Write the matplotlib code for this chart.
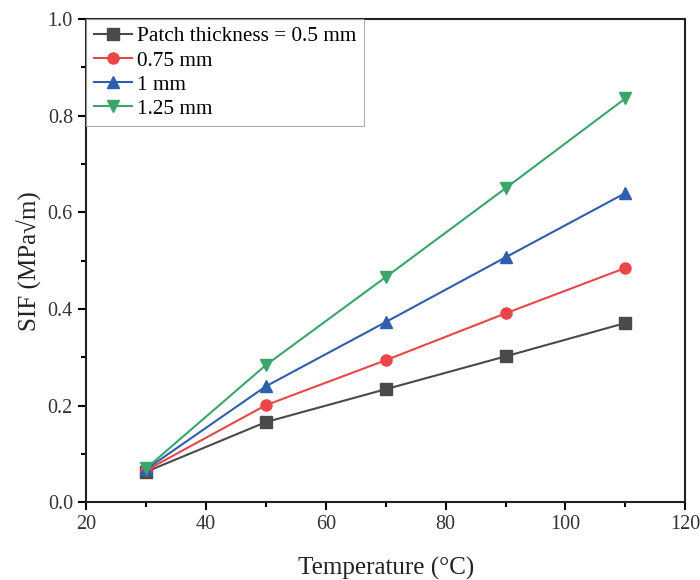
import numpy as np
import matplotlib
matplotlib.use('Agg')
import matplotlib.pyplot as plt
from matplotlib.ticker import MultipleLocator

plt.rcParams['font.family'] = ['Liberation Serif', 'DejaVu Serif']

temp = [30, 50, 70, 90, 110]
sif_05 = [0.063, 0.166, 0.234, 0.302, 0.371]
sif_075 = [0.066, 0.201, 0.294, 0.391, 0.485]
sif_1 = [0.068, 0.240, 0.373, 0.507, 0.640]
sif_125 = [0.070, 0.284, 0.466, 0.650, 0.836]

labels = ['Patch thickness = 0.5 mm', '0.75 mm', '1 mm', '1.25 mm']
colors = ['#4a4a4c', '#e8474a', '#2e5eae', '#3aa56a']
markers = ['s', 'o', '^', 'v']

fig = plt.figure(figsize=(7, 5.8), dpi=100)
ax = fig.add_axes([0.123, 0.134, 0.856, 0.833])

for y, lab, c, m in zip([sif_05, sif_075, sif_1, sif_125], labels, colors, markers):
    ax.plot(temp, y, color=c, marker=m, markersize=8, linewidth=1.5, label=lab)

ax.set_xlim(20, 120)
ax.set_ylim(0, 1.0)
ax.xaxis.set_major_locator(MultipleLocator(20))
ax.xaxis.set_minor_locator(MultipleLocator(10))
ax.yaxis.set_major_locator(MultipleLocator(0.2))
ax.yaxis.set_minor_locator(MultipleLocator(0.1))
ax.yaxis.set_major_formatter(matplotlib.ticker.FormatStrFormatter('%.1f'))

ax.tick_params(which='major', direction='out', length=6, width=1.5,
               labelsize=14.5, labelcolor='#333333')
ax.tick_params(which='minor', direction='out', length=3.5, width=1.5)
for s in ax.spines.values():
    s.set_linewidth(1.5)
    s.set_color('#222222')

ax.set_xlabel('Temperature (°C)', fontsize=18, labelpad=16, color='#222222')
ax.set_ylabel('SIF (MPa√m)', fontsize=18, labelpad=4, color='#222222')

leg = ax.legend(loc='upper left', fontsize=15.3, borderaxespad=0, frameon=True,
                fancybox=False, handlelength=1.8, handletextpad=0.25,
                labelspacing=0.2, borderpad=0.35)
leg.get_frame().set_edgecolor('#999999')
leg.get_frame().set_linewidth(0.8)

fig.savefig('out.png', dpi=100)
